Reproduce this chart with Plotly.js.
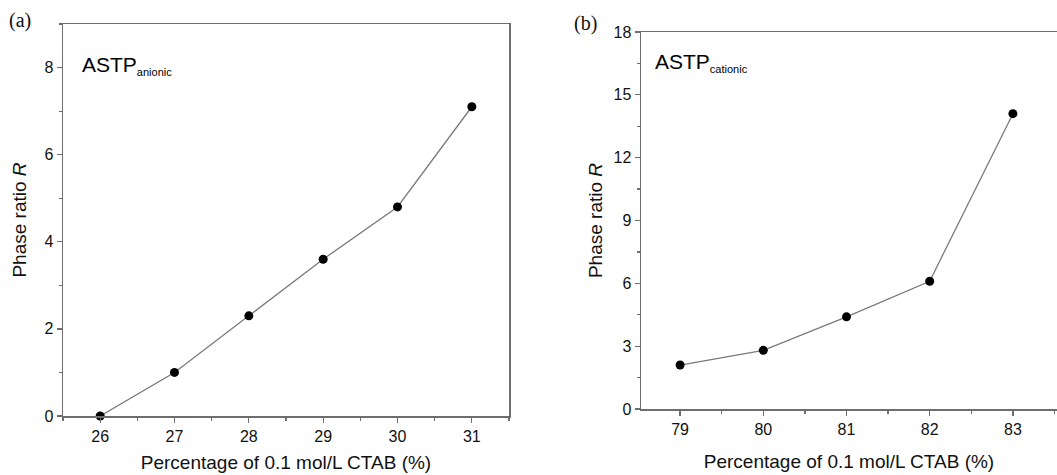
<!DOCTYPE html>
<html>
<head>
<meta charset="utf-8">
<script src="https://cdn.plot.ly/plotly-3.0.1.min.js"></script>
<style>html,body{margin:0;padding:0;background:#fff;}#chart{width:1057px;height:475px;}</style>
</head>
<body>
<div id="chart"></div>
<script>
// Panel (a): ASTP anionic
const xAnionic = [26, 27, 28, 29, 30, 31];
const rAnionic = [0.0, 1.0, 2.3, 3.6, 4.8, 7.1];
// Panel (b): ASTP cationic
const xCationic = [79, 80, 81, 82, 83];
const rCationic = [2.1, 2.8, 4.4, 6.1, 14.1];

const xTitle = 'Percentage of 0.1 mol/L CTAB (%)';
const yTitle = 'Phase ratio <i>R</i>';
const panelLabels = ['(a)', '(b)'];
const seriesLabels = ['ASTP<sub><span style="font-size:11px">anionic</span></sub>',
                      'ASTP<sub><span style="font-size:11px">cationic</span></sub>'];

const W = 1057, H = 475;
const px = v => v / W;
const py = v => 1 - v / H;

const lineStyle = {color: '#7a7a7a', width: 1.3};
const markerStyle = {color: '#000', size: 9, symbol: 'circle'};

const traces = [
  {x: xAnionic, y: rAnionic, xaxis: 'x', yaxis: 'y', mode: 'lines+markers',
   line: lineStyle, marker: markerStyle, cliponaxis: false, showlegend: false},
  {x: xCationic, y: rCationic, xaxis: 'x2', yaxis: 'y2', mode: 'lines+markers',
   line: lineStyle, marker: markerStyle, cliponaxis: false, showlegend: false}
];

const tickFont = {family: 'Liberation Sans, Arial, sans-serif', size: 16, color: '#111'};
const titleFont = {family: 'Liberation Sans, Arial, sans-serif', size: 19, color: '#111'};
const axCommon = {
  showline: true, linecolor: '#6e6e6e', linewidth: 1.5,
  ticks: 'outside', ticklen: 5, tickwidth: 1.3, tickcolor: '#6e6e6e',
  showgrid: false, zeroline: false, tickfont: tickFont, fixedrange: true
};

const layout = {
  width: W, height: H,
  margin: {l: 0, r: 0, t: 0, b: 0},
  paper_bgcolor: '#fff', plot_bgcolor: '#fff',
  showlegend: false,
  xaxis: Object.assign({}, axCommon, {
    domain: [px(63), px(509)], range: [25.5, 31.5], dtick: 1, tick0: 26,
    mirror: true, anchor: 'y',
    minor: {ticks: 'outside', ticklen: 3, dtick: 0.5, tickcolor: '#6e6e6e', tickwidth: 1.2},
    title: {text: xTitle, font: titleFont, standoff: 12}
  }),
  yaxis: Object.assign({}, axCommon, {
    domain: [py(416), py(24)], range: [0, 9], dtick: 2, tick0: 0,
    mirror: true, anchor: 'x',
    minor: {ticks: 'outside', ticklen: 3, dtick: 1, tickcolor: '#6e6e6e', tickwidth: 1.2},
    title: {text: yTitle, font: titleFont, standoff: 12}
  }),
  xaxis2: Object.assign({}, axCommon, {
    domain: [px(641), 1], range: [78.53, 83.53], dtick: 1, tick0: 79,
    mirror: true, anchor: 'y2',
    minor: {ticks: 'outside', ticklen: 3, dtick: 0.5, tickcolor: '#6e6e6e', tickwidth: 1.2},
    title: {text: xTitle, font: titleFont, standoff: 18}
  }),
  yaxis2: Object.assign({}, axCommon, {
    domain: [py(409), py(32)], range: [0, 18], dtick: 3, tick0: 0,
    mirror: false, anchor: 'x2',
    minor: {ticks: 'outside', ticklen: 3, dtick: 1.5, tickcolor: '#6e6e6e', tickwidth: 1.2},
    title: {text: yTitle, font: titleFont, standoff: 6}
  }),
  annotations: [
    {xref: 'paper', yref: 'paper', x: px(7), y: py(20), xanchor: 'left', yanchor: 'middle',
     text: panelLabels[0], showarrow: false,
     font: {family: 'Liberation Serif, Times New Roman, serif', size: 20, color: '#111'}},
    {xref: 'paper', yref: 'paper', x: px(572), y: py(24), xanchor: 'left', yanchor: 'middle',
     text: panelLabels[1], showarrow: false,
     font: {family: 'Liberation Serif, Times New Roman, serif', size: 20, color: '#111'}},
    {xref: 'paper', yref: 'paper', x: px(80), y: py(66), xanchor: 'left', yanchor: 'middle',
     text: seriesLabels[0], showarrow: false,
     font: {family: 'Liberation Sans, Arial, sans-serif', size: 21, color: '#000'}},
    {xref: 'paper', yref: 'paper', x: px(653), y: py(62), xanchor: 'left', yanchor: 'middle',
     text: seriesLabels[1], showarrow: false,
     font: {family: 'Liberation Sans, Arial, sans-serif', size: 21, color: '#000'}}
  ]
};

Plotly.newPlot('chart', traces, layout, {displayModeBar: false, staticPlot: true});
</script>
</body>
</html>
